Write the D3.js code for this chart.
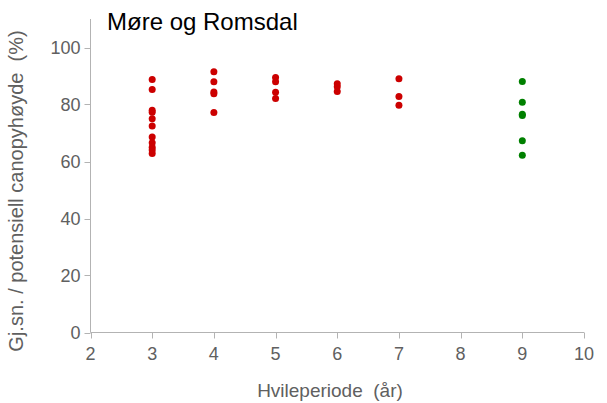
<!DOCTYPE html>
<html><head><meta charset="utf-8">
<script src="https://cdn.jsdelivr.net/npm/d3@7"></script>
<style>body{margin:0;background:#fff} text{white-space:pre}</style>
</head><body>
<svg id="c" width="607" height="403"></svg>
<script>
const redX = [3,3,3,3,3,3,3,3,3,3,3, 4,4,4,4,4, 5,5,5,5, 6,6,6, 7,7,7];
const redY = [88.8,85.3,78,77.3,75,72.5,68.6,66.6,65,64,62.8, 91.5,88,84.4,83.8,77.2, 89.5,88,84.3,82.1, 87.3,86.2,84.6, 89,82.8,79.7];
const greenX = [9,9,9,9,9,9];
const greenY = [88.1,80.8,76.6,76.1,67.3,62.2];
const xTicks = [2,3,4,5,6,7,8,9,10];
const yTicks = [0,20,40,60,80,100];
const title = "Møre og Romsdal";
const xLabel = "Hvileperiode  (år)";
const yLabel = "Gj.sn. / potensiell canopyhøyde  (%)";

const svg = d3.select("#c");
const x = d3.scaleLinear().domain([2,10]).range([90.5,584]);
const y = d3.scaleLinear().domain([0,110]).range([332.5,19]);
const font = "Liberation Sans, Arial, sans-serif";
const grey = "#b3b3b3", txt = "#606060";

// y axis
svg.append("line").attr("x1",x(2)).attr("x2",x(2)).attr("y1",y(0)).attr("y2",y(110)).attr("stroke",grey);
yTicks.forEach(t=>{
  svg.append("line").attr("x1",x(2)-6).attr("x2",x(2)).attr("y1",Math.round(y(t))+0.5).attr("y2",Math.round(y(t))+0.5).attr("stroke",grey);
  svg.append("text").attr("x",x(2)-10).attr("y",y(t)).attr("dy","0.35em").attr("text-anchor","end")
    .attr("font-family",font).attr("font-size",18).attr("fill",txt).text(t);
});
// x axis
svg.append("line").attr("x1",x(2)).attr("x2",x(10)).attr("y1",y(0)).attr("y2",y(0)).attr("stroke",grey);
xTicks.forEach(t=>{
  svg.append("line").attr("x1",Math.round(x(t))+0.5).attr("x2",Math.round(x(t))+0.5).attr("y1",y(0)).attr("y2",y(0)+6).attr("stroke",grey);
  svg.append("text").attr("x",x(t)).attr("y",360).attr("text-anchor","middle")
    .attr("font-family",font).attr("font-size",18).attr("fill",txt).text(t);
});

svg.append("text").attr("x",330).attr("y",397).attr("text-anchor","middle")
  .attr("font-family",font).attr("font-size",19).attr("fill",txt).text(xLabel);
svg.append("text").attr("transform","translate(23,191) rotate(-90)").attr("text-anchor","middle")
  .attr("font-family",font).attr("font-size",20).attr("fill",txt).text(yLabel);
svg.append("text").attr("x",107).attr("y",30).attr("font-family",font).attr("font-size",24).attr("fill","#000").text(title);

svg.append("g").selectAll("circle").data(redX.map((d,i)=>[d,redY[i]])).join("circle")
  .attr("cx",d=>x(d[0])).attr("cy",d=>y(d[1])).attr("r",3.5).attr("fill","#cc0000");
svg.append("g").selectAll("circle").data(greenX.map((d,i)=>[d,greenY[i]])).join("circle")
  .attr("cx",d=>x(d[0])).attr("cy",d=>y(d[1])).attr("r",3.5).attr("fill","#008000");
</script>
</body></html>
